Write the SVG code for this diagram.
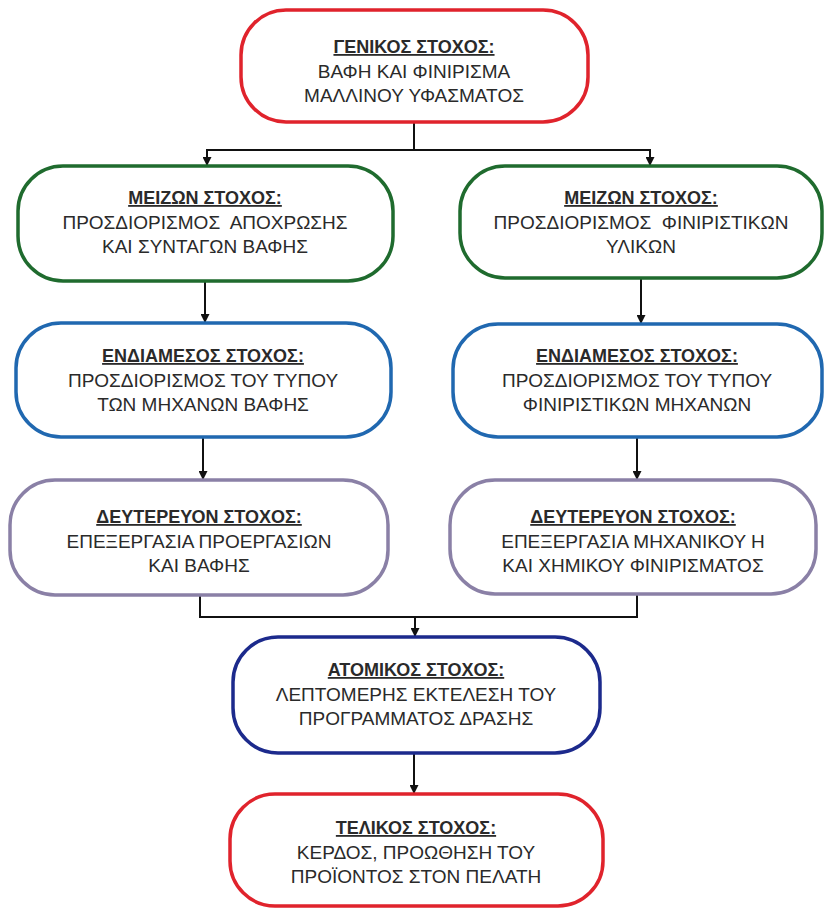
<svg xmlns="http://www.w3.org/2000/svg" width="826" height="911" viewBox="0 0 826 911">
<defs>
<marker id="ah" viewBox="0 0 10 10" refX="10" refY="5" markerWidth="9" markerHeight="9" markerUnits="userSpaceOnUse" orient="auto">
<path d="M0,0 L10,5 L0,10 z" fill="#111"/>
</marker>
<style>
.box{fill:#fff;stroke-width:3.5}
.red{stroke:#e0232c}
.green{stroke:#1f6b2e}
.blue{stroke:#2068b0}
.purple{stroke:#8a80a6}
.navy{stroke:#1c2a8c}
text{font-family:"Liberation Sans",Arial,sans-serif;font-size:19px;fill:#2a2a2a;text-anchor:middle}
.t{font-size:18px;font-weight:bold;text-decoration:underline}
.c{fill:none;stroke:#111;stroke-width:2}
</style>
</defs>
<rect width="826" height="911" fill="#fff"/>
<g id="connectors">
<path class="c" d="M414,122 V150"/>
<path class="c" d="M414,150 H207 V166" marker-end="url(#ah)"/>
<path class="c" d="M414,150 H650 V166" marker-end="url(#ah)"/>
<path class="c" d="M205,281 V323" marker-end="url(#ah)"/>
<path class="c" d="M641,278 V324" marker-end="url(#ah)"/>
<path class="c" d="M203,437 V480" marker-end="url(#ah)"/>
<path class="c" d="M637,437 V480" marker-end="url(#ah)"/>
<path class="c" d="M200,595 V617 H637 V594"/>
<path class="c" d="M415,617 V637" marker-end="url(#ah)"/>
<path class="c" d="M414,753 V794" marker-end="url(#ah)"/>
</g>
<g id="general">
<rect class="box red" x="241" y="10" width="347" height="112" rx="45"/>
<text class="t" x="414" y="53">ΓΕΝΙΚΟΣ ΣΤΟΧΟΣ:</text>
<text x="414" y="78">ΒΑΦΗ ΚΑΙ ΦΙΝΙΡΙΣΜΑ</text>
<text x="414" y="102">ΜΑΛΛΙΝΟΥ ΥΦΑΣΜΑΤΟΣ</text>
</g>
<g id="major-left">
<rect class="box green" x="18" y="166" width="375" height="115" rx="45"/>
<text class="t" x="205" y="204">ΜΕΙΖΩΝ ΣΤΟΧΟΣ:</text>
<text x="205" y="229" xml:space="preserve">ΠΡΟΣΔΙΟΡΙΣΜΟΣ  ΑΠΟΧΡΩΣΗΣ</text>
<text x="205" y="253">ΚΑΙ ΣΥΝΤΑΓΩΝ ΒΑΦΗΣ</text>
</g>
<g id="major-right">
<rect class="box green" x="460" y="166" width="362" height="112" rx="45"/>
<text class="t" x="641" y="204">ΜΕΙΖΩΝ ΣΤΟΧΟΣ:</text>
<text x="641" y="229" xml:space="preserve">ΠΡΟΣΔΙΟΡΙΣΜΟΣ  ΦΙΝΙΡΙΣΤΙΚΩΝ</text>
<text x="641" y="253">ΥΛΙΚΩΝ</text>
</g>
<g id="intermediate-left">
<rect class="box blue" x="16" y="323" width="375" height="114" rx="45"/>
<text class="t" x="203" y="362">ΕΝΔΙΑΜΕΣΟΣ ΣΤΟΧΟΣ:</text>
<text x="203" y="387">ΠΡΟΣΔΙΟΡΙΣΜΟΣ ΤΟΥ ΤΥΠΟΥ</text>
<text x="203" y="411">ΤΩΝ ΜΗΧΑΝΩΝ ΒΑΦΗΣ</text>
</g>
<g id="intermediate-right">
<rect class="box blue" x="453" y="324" width="369" height="113" rx="45"/>
<text class="t" x="637" y="362">ΕΝΔΙΑΜΕΣΟΣ ΣΤΟΧΟΣ:</text>
<text x="637" y="387">ΠΡΟΣΔΙΟΡΙΣΜΟΣ ΤΟΥ ΤΥΠΟΥ</text>
<text x="637" y="411">ΦΙΝΙΡΙΣΤΙΚΩΝ ΜΗΧΑΝΩΝ</text>
</g>
<g id="secondary-left">
<rect class="box purple" x="10" y="480" width="378" height="115" rx="45"/>
<text class="t" x="199" y="523">ΔΕΥΤΕΡΕΥΟΝ ΣΤΟΧΟΣ:</text>
<text x="199" y="548">ΕΠΕΞΕΡΓΑΣΙΑ ΠΡΟΕΡΓΑΣΙΩΝ</text>
<text x="199" y="572">ΚΑΙ ΒΑΦΗΣ</text>
</g>
<g id="secondary-right">
<rect class="box purple" x="450" y="480" width="366" height="114" rx="45"/>
<text class="t" x="633" y="523">ΔΕΥΤΕΡΕΥΟΝ ΣΤΟΧΟΣ:</text>
<text x="633" y="548">ΕΠΕΞΕΡΓΑΣΙΑ ΜΗΧΑΝΙΚΟΥ Η</text>
<text x="633" y="572">ΚΑΙ ΧΗΜΙΚΟΥ ΦΙΝΙΡΙΣΜΑΤΟΣ</text>
</g>
<g id="individual">
<rect class="box navy" x="233" y="637" width="367" height="116" rx="45"/>
<text class="t" x="416" y="676">ΑΤΟΜΙΚΟΣ ΣΤΟΧΟΣ:</text>
<text x="416" y="701">ΛΕΠΤΟΜΕΡΗΣ ΕΚΤΕΛΕΣΗ ΤΟΥ</text>
<text x="416" y="725">ΠΡΟΓΡΑΜΜΑΤΟΣ ΔΡΑΣΗΣ</text>
</g>
<g id="final">
<rect class="box red" x="230" y="794" width="373" height="112" rx="45"/>
<text class="t" x="416" y="834">ΤΕΛΙΚΟΣ ΣΤΟΧΟΣ:</text>
<text x="416" y="859">ΚΕΡΔΟΣ, ΠΡΟΩΘΗΣΗ ΤΟΥ</text>
<text x="416" y="883">ΠΡΟΪΟΝΤΟΣ ΣΤΟΝ ΠΕΛΑΤΗ</text>
</g>
</svg>
